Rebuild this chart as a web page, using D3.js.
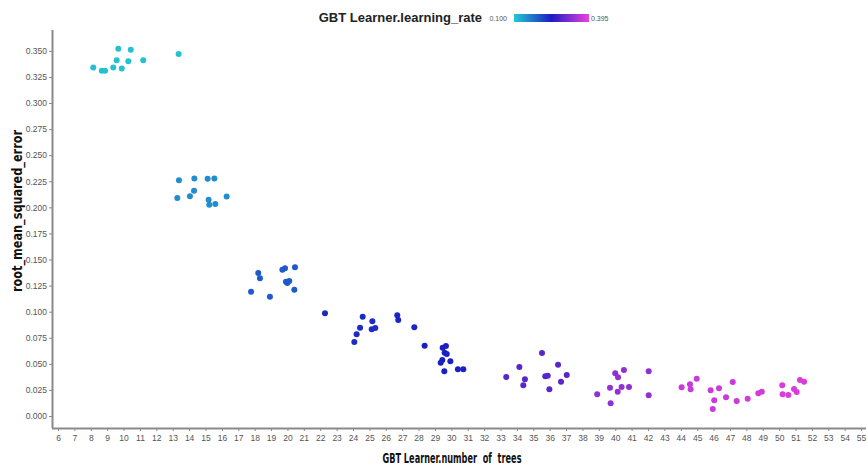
<!DOCTYPE html>
<html>
<head>
<meta charset="utf-8">
<script src="https://cdn.jsdelivr.net/npm/d3@7"></script>
<style>
  html, body { margin: 0; padding: 0; background: #fff; }
  svg { display: block; }
</style>
</head>
<body>
<svg id="chart" width="868" height="466"></svg>
<script>
// GBT hyperparameter sweep: number of trees vs RMSE, coloured by learning rate
const trees = [
  8.15, 8.67, 8.87, 9.37, 9.68, 9.58, 9.89, 10.29, 10.44, 11.20, 13.36,
  13.38, 14.32, 15.13, 15.54, 14.30, 14.05, 13.28, 15.19, 15.23, 15.60, 16.29,
  18.22, 18.32, 17.78, 18.93, 19.69, 19.85, 20.46, 19.91, 19.99, 20.11, 20.42,
  22.29, 24.59, 25.18, 24.43, 24.22, 24.08, 25.14, 25.36, 26.70, 26.76, 27.74,
  28.37, 29.47, 29.67, 29.59, 29.72, 29.45, 29.35, 29.94, 29.57, 30.40, 30.73,
  33.35, 34.15, 34.49, 34.39, 35.53, 35.73, 35.88, 36.51, 37.04, 36.69, 35.98,
  38.90, 39.68, 39.72, 40.00, 40.17, 40.53, 40.15, 40.39, 40.84, 42.04, 42.04,
  44.05, 44.56, 44.60, 44.97, 45.82, 46.33, 47.17, 46.04, 45.95, 46.76, 47.41,
  48.08, 48.73, 48.94, 50.19, 50.21, 50.56, 50.91, 51.07, 51.27, 51.52
];
const rmse = [
  0.334, 0.331, 0.331, 0.334, 0.352, 0.341, 0.333, 0.340, 0.351, 0.341, 0.347,
  0.226, 0.2276, 0.2273, 0.2276, 0.216, 0.2107, 0.209, 0.2074, 0.2026, 0.2033, 0.2103,
  0.1371, 0.1320, 0.1192, 0.1144, 0.1403, 0.1416, 0.1426, 0.1288, 0.1275, 0.1295, 0.1211,
  0.0985, 0.0952, 0.0908, 0.0847, 0.0784, 0.0710, 0.0832, 0.0844, 0.0966, 0.0921, 0.0851,
  0.0674, 0.0655, 0.0671, 0.0607, 0.0595, 0.0537, 0.0511, 0.0525, 0.0429, 0.0448, 0.0448,
  0.0374, 0.0470, 0.0352, 0.0294, 0.0604, 0.0381, 0.0386, 0.0492, 0.0393, 0.0329, 0.0256,
  0.0208, 0.0271, 0.0122, 0.0409, 0.0371, 0.0441, 0.0233, 0.0278, 0.0278, 0.0429, 0.0199,
  0.0275, 0.0304, 0.0256, 0.0358, 0.0246, 0.0266, 0.0326, 0.0151, 0.0067, 0.0179, 0.0144,
  0.0166, 0.0218, 0.0233, 0.0294, 0.0208, 0.0201, 0.0259, 0.0230, 0.0345, 0.0329
];
const learningRate = [
  0.108, 0.108, 0.108, 0.108, 0.108, 0.108, 0.108, 0.108, 0.108, 0.108, 0.108,
  0.152, 0.152, 0.152, 0.152, 0.152, 0.152, 0.152, 0.152, 0.152, 0.152, 0.152,
  0.195, 0.195, 0.195, 0.195, 0.195, 0.195, 0.195, 0.195, 0.195, 0.195, 0.195,
  0.235, 0.235, 0.235, 0.235, 0.235, 0.235, 0.235, 0.235, 0.240, 0.240, 0.240,
  0.245, 0.245, 0.245, 0.245, 0.245, 0.245, 0.245, 0.245, 0.245, 0.245, 0.245,
  0.290, 0.290, 0.290, 0.290, 0.290, 0.290, 0.290, 0.290, 0.290, 0.290, 0.290,
  0.330, 0.330, 0.330, 0.330, 0.330, 0.330, 0.330, 0.330, 0.330, 0.330, 0.330,
  0.370, 0.370, 0.370, 0.370, 0.370, 0.370, 0.370, 0.370, 0.370, 0.370, 0.370,
  0.375, 0.375, 0.375, 0.380, 0.380, 0.380, 0.380, 0.380, 0.380, 0.380
];
const xTicks = d3.range(6, 56);
const yTicks = [0, 0.025, 0.05, 0.075, 0.1, 0.125, 0.15, 0.175, 0.2, 0.225, 0.25, 0.275, 0.3, 0.325, 0.35];
const lrDomain = [0.100, 0.395];
const lrStops = ["#22cbd3", "#1c1cc4", "#ee40de"];

const svg = d3.select("#chart");
const plot = { left: 52, right: 866, top: 30, bottom: 428 };

const x = d3.scaleLinear().domain([5.634, 55.3]).range([plot.left, plot.right]);
const y = d3.scaleLinear().domain([-0.0115, 0.370]).range([plot.bottom, plot.top]);
const color = d3.scaleLinear()
  .domain([lrDomain[0], (lrDomain[0] + lrDomain[1]) / 2, lrDomain[1]])
  .range(lrStops)
  .interpolate(d3.interpolateRgb);

const tickFont = "'Liberation Sans', Arial, sans-serif";
const titleFont = "'Liberation Sans Narrow', 'DejaVu Sans Condensed', 'Liberation Sans', sans-serif";

// Y axis
const yAxis = svg.append("g")
  .attr("transform", `translate(${plot.left},0)`)
  .call(d3.axisLeft(y).tickValues(yTicks).tickFormat(d3.format(".3f")).tickSize(3).tickPadding(2));
yAxis.select(".domain").attr("stroke", "#8a8a8a").attr("stroke-width", 2)
  .attr("d", `M0.5,${plot.top}V${plot.bottom}`);
yAxis.selectAll(".tick line").attr("stroke", "#8a8a8a");
yAxis.selectAll(".tick text").attr("fill", "#555").style("font", `8.5px ${tickFont}`);

// X axis
const xAxis = svg.append("g")
  .attr("transform", `translate(0,${plot.bottom})`)
  .call(d3.axisBottom(x).tickValues(xTicks).tickFormat(d3.format("d")).tickSize(3).tickPadding(4));
xAxis.select(".domain").attr("stroke", "#8a8a8a").attr("stroke-width", 2)
  .attr("d", `M${plot.left},0.5H${plot.right}`);
xAxis.selectAll(".tick line").attr("stroke", "#8a8a8a");
xAxis.selectAll(".tick text").attr("fill", "#555").style("font", `8.5px ${tickFont}`);

// Points
svg.append("g").selectAll("circle")
  .data(trees.map((t, i) => ({ t, r: rmse[i], lr: learningRate[i] })))
  .join("circle")
  .attr("cx", d => x(d.t))
  .attr("cy", d => y(d.r))
  .attr("r", 3)
  .attr("fill", d => color(d.lr));

// Axis titles (condensed bold)
svg.append("text")
  .attr("x", 452).attr("y", 463)
  .attr("text-anchor", "middle")
  .attr("textLength", 139)
  .attr("lengthAdjust", "spacingAndGlyphs")
  .style("font", `bold 14px ${titleFont}`)
  .attr("fill", "#111")
  .attr("xml:space", "preserve")
  .text("GBT Learner.number  of  trees");

svg.append("text")
  .attr("transform", `translate(22,211) rotate(-90)`)
  .attr("text-anchor", "middle")
  .attr("textLength", 162)
  .attr("lengthAdjust", "spacingAndGlyphs")
  .style("font", `bold 14px ${titleFont}`)
  .attr("fill", "#111")
  .text("root_mean_squared_error");

// Colour legend
const defs = svg.append("defs");
const grad = defs.append("linearGradient").attr("id", "lrGrad");
grad.selectAll("stop")
  .data(lrStops)
  .join("stop")
  .attr("offset", (d, i) => i / (lrStops.length - 1))
  .attr("stop-color", d => d);

svg.append("text")
  .attr("x", 482).attr("y", 22)
  .attr("text-anchor", "end")
  .style("font", `bold 13px ${tickFont}`)
  .attr("fill", "#222")
  .text("GBT Learner.learning_rate");

svg.append("text")
  .attr("x", 507).attr("y", 20.5)
  .attr("text-anchor", "end")
  .style("font", `7px ${tickFont}`)
  .attr("fill", "#555")
  .text(d3.format(".3f")(lrDomain[0]));

svg.append("rect")
  .attr("x", 514).attr("y", 14)
  .attr("width", 75).attr("height", 8)
  .attr("fill", "url(#lrGrad)");

svg.append("text")
  .attr("x", 591).attr("y", 20.5)
  .style("font", `7px ${tickFont}`)
  .attr("fill", "#555")
  .text(d3.format(".3f")(lrDomain[1]));
</script>
</body>
</html>
